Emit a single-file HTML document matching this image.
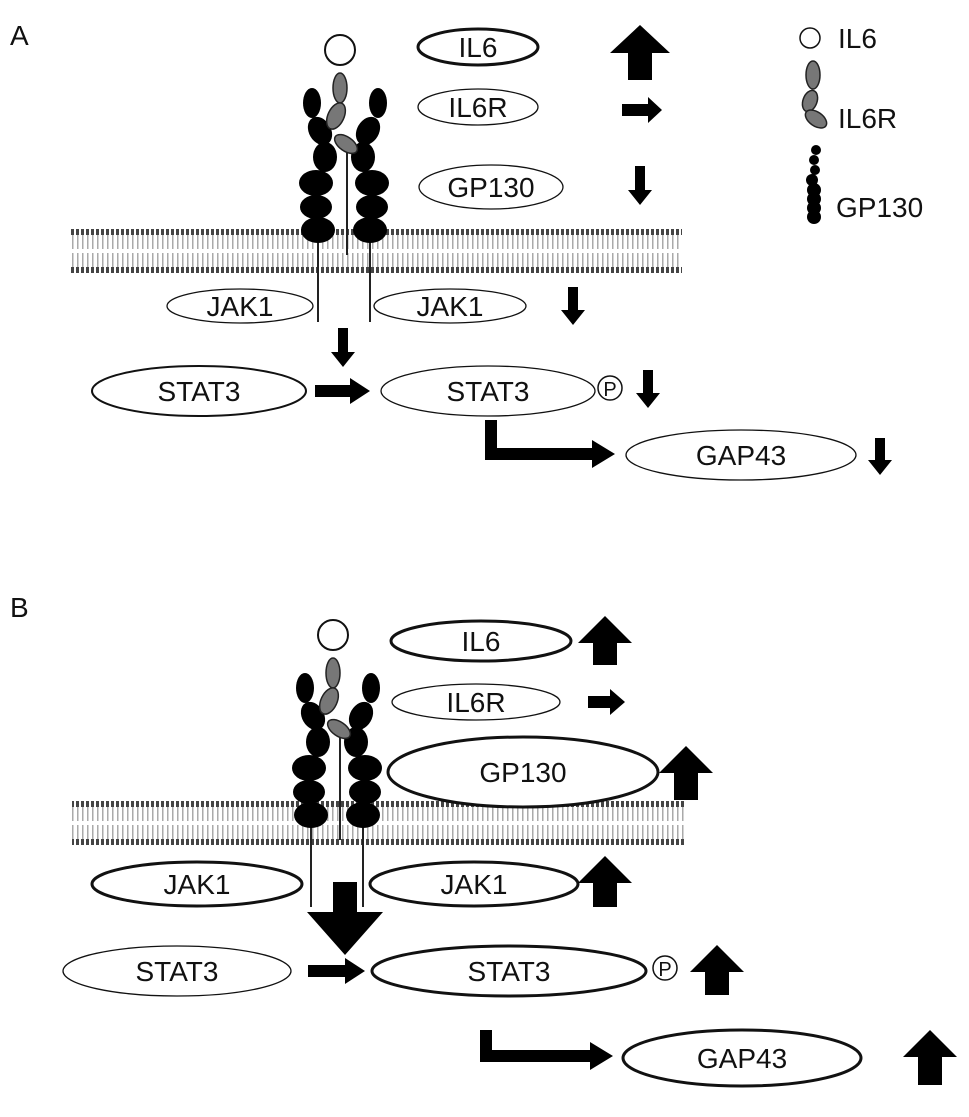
<!DOCTYPE html>
<html><head><meta charset="utf-8"><style>body{margin:0;background:#fff}svg{display:block}text{font-family:"Liberation Sans",sans-serif;fill:#111}</style></head><body>
<svg width="969" height="1117" viewBox="0 0 969 1117" xmlns="http://www.w3.org/2000/svg">
<defs>
<pattern id="lipA" x="0" y="229" width="5" height="44" patternUnits="userSpaceOnUse">
<rect x="1" y="0" width="3" height="6" fill="#444"/>
<rect x="2" y="6" width="1.5" height="14" fill="#aaa"/>
<rect x="2" y="24" width="1.5" height="14" fill="#aaa"/>
<rect x="1" y="38" width="3" height="6" fill="#444"/>
</pattern>
<pattern id="lipB" x="0" y="801" width="5" height="44" patternUnits="userSpaceOnUse">
<rect x="1" y="0" width="3" height="6" fill="#444"/>
<rect x="2" y="6" width="1.5" height="14" fill="#aaa"/>
<rect x="2" y="24" width="1.5" height="14" fill="#aaa"/>
<rect x="1" y="38" width="3" height="6" fill="#444"/>
</pattern>
<g id="rec">
<circle cx="340" cy="50" r="15" fill="#fff" stroke="#111" stroke-width="2"/>
<line x1="318" y1="235" x2="318" y2="322" stroke="#222" stroke-width="2"/>
<line x1="370" y1="235" x2="370" y2="322" stroke="#222" stroke-width="2"/>
<g fill="#000">
<ellipse cx="312" cy="103" rx="9" ry="15"/>
<ellipse cx="320" cy="131" rx="11" ry="15" transform="rotate(-30 320 131)"/>
<ellipse cx="325" cy="157" rx="12" ry="15"/>
<ellipse cx="316" cy="183" rx="17" ry="13"/>
<ellipse cx="316" cy="207" rx="16" ry="12"/>
<ellipse cx="318" cy="230" rx="17" ry="13"/>
<ellipse cx="378" cy="103" rx="9" ry="15"/>
<ellipse cx="368" cy="131" rx="11" ry="15" transform="rotate(30 368 131)"/>
<ellipse cx="363" cy="157" rx="12" ry="15"/>
<ellipse cx="372" cy="183" rx="17" ry="13"/>
<ellipse cx="372" cy="207" rx="16" ry="12"/>
<ellipse cx="370" cy="230" rx="17" ry="13"/>
</g>
<line x1="347" y1="150" x2="347" y2="255" stroke="#222" stroke-width="2"/>
<g fill="#777" stroke="#222" stroke-width="1.5">
<ellipse cx="340" cy="88" rx="7" ry="15"/>
<ellipse cx="336" cy="116" rx="8" ry="14" transform="rotate(25 336 116)"/>
<ellipse cx="346" cy="144" rx="7" ry="13" transform="rotate(-55 346 144)"/>
</g>
</g>
</defs>

<text x="10" y="45" font-size="28">A</text>
<text x="10" y="617" font-size="28">B</text>

<!-- Panel A -->
<rect x="70" y="229" width="612" height="44" fill="url(#lipA)"/>
<use href="#rec"/>
<g fill="#fff" stroke="#111">
<ellipse cx="478" cy="47" rx="60" ry="18" stroke-width="3"/>
<ellipse cx="478" cy="107" rx="60" ry="18" stroke-width="1.3"/>
<ellipse cx="491" cy="187" rx="72" ry="22" stroke-width="1.3"/>
<ellipse cx="240" cy="306" rx="73" ry="17" stroke-width="1.3"/>
<ellipse cx="450" cy="306" rx="76" ry="17" stroke-width="1.3"/>
<ellipse cx="199" cy="391" rx="107" ry="25" stroke-width="2"/>
<ellipse cx="488" cy="391" rx="107" ry="25" stroke-width="1.3"/>
<circle cx="610" cy="388" r="12" stroke-width="1.5"/>
<ellipse cx="741" cy="455" rx="115" ry="25" stroke-width="1.3"/>
</g>
<g font-size="28" text-anchor="middle">
<text x="478" y="57">IL6</text><text x="478" y="117">IL6R</text><text x="491" y="197">GP130</text>
<text x="240" y="316">JAK1</text><text x="450" y="316">JAK1</text>
<text x="199" y="401">STAT3</text><text x="488" y="401">STAT3</text>
<text x="741" y="465">GAP43</text>
<text x="610" y="396" font-size="20">P</text>
</g>
<g fill="#000">
<polygon points="640,25 670,53 652,53 652,80 628,80 628,53 610,53"/>
<polygon points="622,104 648,104 648,97 662,110 648,123 648,116 622,116"/>
<polygon points="635,166 645,166 645,190 652,190 640,205 628,190 635,190"/>
<polygon points="568,287 578,287 578,310 585,310 573,325 561,310 568,310"/>
<polygon points="338,328 348,328 348,352 355,352 343,367 331,352 338,352"/>
<polygon points="315,385 350,385 350,378 370,391 350,404 350,397 315,397"/>
<polygon points="643,370 653,370 653,393 660,393 648,408 636,393 643,393"/>
<polygon points="875,438 885,438 885,460 892,460 880,475 868,460 875,460"/>
<polygon points="485,420 497,420 497,448 592,448 592,440 615,454 592,468 592,460 485,460"/>
</g>
<g font-size="28">
<circle cx="810" cy="38" r="10" fill="#fff" stroke="#111" stroke-width="1.5"/>
<text x="838" y="48">IL6</text>
<g fill="#777" stroke="#222" stroke-width="1.5">
<ellipse cx="813" cy="75" rx="7" ry="14"/>
<ellipse cx="810" cy="101" rx="7" ry="11" transform="rotate(20 810 101)"/>
<ellipse cx="816" cy="119" rx="7" ry="12" transform="rotate(-55 816 119)"/>
</g>
<text x="838" y="128">IL6R</text>
<g fill="#000">
<circle cx="816" cy="150" r="5"/><circle cx="814" cy="160" r="5"/><circle cx="815" cy="170" r="5"/>
<circle cx="812" cy="180" r="6"/><circle cx="814" cy="190" r="7"/><circle cx="814" cy="199" r="7"/><circle cx="814" cy="208" r="7"/><circle cx="814" cy="217" r="7"/>
</g>
<text x="836" y="217">GP130</text>
</g>

<!-- Panel B -->
<rect x="72" y="801" width="612" height="44" fill="url(#lipB)"/>
<use href="#rec" transform="translate(-7 585)"/>
<g fill="#fff" stroke="#111">
<ellipse cx="481" cy="641" rx="90" ry="20" stroke-width="3"/>
<ellipse cx="476" cy="702" rx="84" ry="18" stroke-width="1.3"/>
<ellipse cx="523" cy="772" rx="135" ry="35" stroke-width="3"/>
<ellipse cx="197" cy="884" rx="105" ry="22" stroke-width="3"/>
<ellipse cx="474" cy="884" rx="104" ry="22" stroke-width="3"/>
<ellipse cx="177" cy="971" rx="114" ry="25" stroke-width="1.3"/>
<ellipse cx="509" cy="971" rx="137" ry="25" stroke-width="3"/>
<circle cx="665" cy="968" r="12" stroke-width="1.5"/>
<ellipse cx="742" cy="1058" rx="119" ry="28" stroke-width="3"/>
</g>
<g font-size="28" text-anchor="middle">
<text x="481" y="651">IL6</text><text x="476" y="712">IL6R</text><text x="523" y="782">GP130</text>
<text x="197" y="894">JAK1</text><text x="474" y="894">JAK1</text>
<text x="177" y="981">STAT3</text><text x="509" y="981">STAT3</text>
<text x="742" y="1068">GAP43</text>
<text x="665" y="976" font-size="20">P</text>
</g>
<g fill="#000">
<polygon points="605,616 632,643 617,643 617,665 593,665 593,643 578,643"/>
<polygon points="588,696 610,696 610,689 625,702 610,715 610,708 588,708"/>
<polygon points="686,746 713,773 698,773 698,800 674,800 674,773 659,773"/>
<polygon points="605,856 632,883 617,883 617,907 593,907 593,883 578,883"/>
<polygon points="333,882 357,882 357,912 383,912 345,955 307,912 333,912"/>
<polygon points="308,965 345,965 345,958 365,971 345,984 345,977 308,977"/>
<polygon points="717,945 744,972 729,972 729,995 705,995 705,972 690,972"/>
<polygon points="930,1030 957,1057 942,1057 942,1085 918,1085 918,1057 903,1057"/>
<polygon points="480,1030 492,1030 492,1050 590,1050 590,1042 613,1056 590,1070 590,1062 480,1062"/>
</g>
</svg>
</body></html>
